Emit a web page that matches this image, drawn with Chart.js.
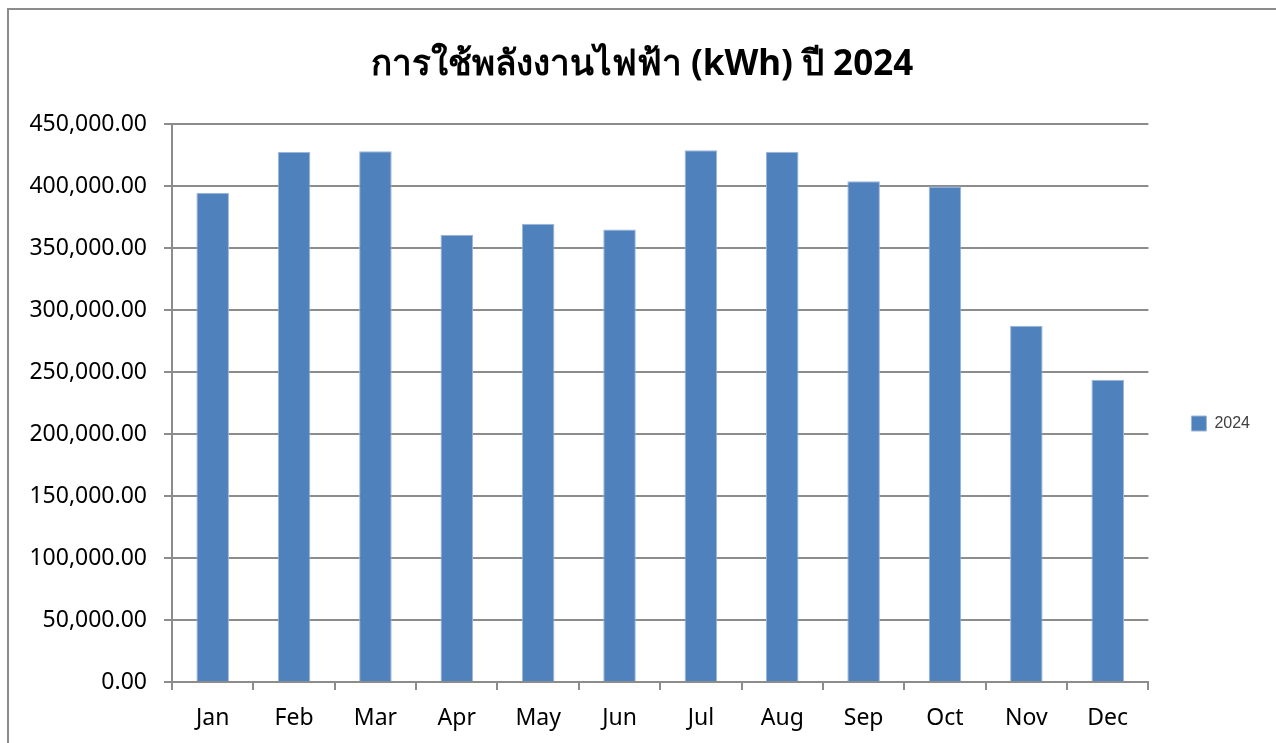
<!DOCTYPE html>
<html>
<head>
<meta charset="utf-8">
<script src="https://cdn.jsdelivr.net/npm/chart.js@4.4.1/dist/chart.umd.min.js"></script>
<style>
  html, body { margin: 0; padding: 0; background: #fff; overflow: hidden; }
  #wrap { position: absolute; left: 0; top: 0; width: 1276px; height: 743px; }
  #frame { position: absolute; left: 7px; top: 8px; width: 1400px; height: 900px;
           border: 2px solid #8c8c8c; pointer-events: none; }
</style>
</head>
<body>
<div id="wrap">
  <canvas id="energyChart" width="1276" height="743"></canvas>
  <div id="frame"></div>
</div>
<script>
// ข้อมูลกราฟ
const months = ['Jan', 'Feb', 'Mar', 'Apr', 'May', 'Jun', 'Jul', 'Aug', 'Sep', 'Oct', 'Nov', 'Dec'];
const usage2024 = [394600, 427400, 428000, 360600, 369500, 364900, 428800, 427700, 403800, 399600, 287300, 243700];
const yTicks = [0, 50000, 100000, 150000, 200000, 250000, 300000, 350000, 400000, 450000];
const seriesName = '2024';
const chartTitle = 'การใช้พลังงานไฟฟ้า (kWh) ปี 2024';

const labelFont = { family: "'Noto Sans', 'Open Sans', sans-serif", size: 23 };

const ctx = document.getElementById('energyChart').getContext('2d');
new Chart(ctx, {
    type: 'bar',
    data: {
        labels: months,
        datasets: [{
            label: seriesName,
            data: usage2024,
            backgroundColor: '#4F81BD',
            borderColor: '#9db6da',
            borderWidth: 1,
            barPercentage: 0.4,
            categoryPercentage: 1
        }]
    },
    options: {
        responsive: false,
        animation: false,
        layout: { padding: { left: 24, right: 16, top: 10, bottom: 10 } },
        plugins: {
            title: {
                display: true,
                text: chartTitle,
                color: '#000',
                font: { family: "'Noto Sans', 'DejaVu Sans', sans-serif", size: 35, weight: 'bold' },
                padding: { top: 34, bottom: 38 }
            },
            legend: {
                position: 'right',
                // ชื่อว่างไว้ดันกล่อง legend ลงมาให้ตรงตำแหน่ง
                title: { display: true, text: '', font: { size: 10 }, padding: 46 },
                labels: {
                    boxWidth: 15,
                    boxHeight: 15,
                    color: '#404040',
                    font: { family: "'Liberation Sans', Arial, sans-serif", size: 16 },
                    padding: 43
                }
            },
            tooltip: { enabled: false }
        },
        scales: {
            x: {
                offset: true,
                afterFit: function(scale) {
                    scale.height = 51;
                },
                grid: {
                    offset: true,
                    drawOnChartArea: false,
                    drawTicks: true,
                    tickLength: 8,
                    color: '#8c8c8c',
                    lineWidth: 2
                },
                border: { color: '#8c8c8c', width: 2 },
                ticks: { color: '#000', font: labelFont, padding: 15 }
            },
            y: {
                min: 0,
                max: 450000,
                afterBuildTicks: function(scale) {
                    scale.ticks = yTicks.map(v => ({ value: v }));
                },
                afterFit: function(scale) {
                    scale.width = 148;
                },
                grid: {
                    color: '#8c8c8c',
                    lineWidth: 2,
                    tickLength: 8
                },
                border: { color: '#8c8c8c', width: 2 },
                ticks: {
                    color: '#000',
                    font: labelFont,
                    padding: 17,
                    callback: function(value) {
                        return Number(value).toLocaleString('en-US', { minimumFractionDigits: 2, maximumFractionDigits: 2 });
                    }
                }
            }
        }
    }
});
</script>
</body>
</html>
